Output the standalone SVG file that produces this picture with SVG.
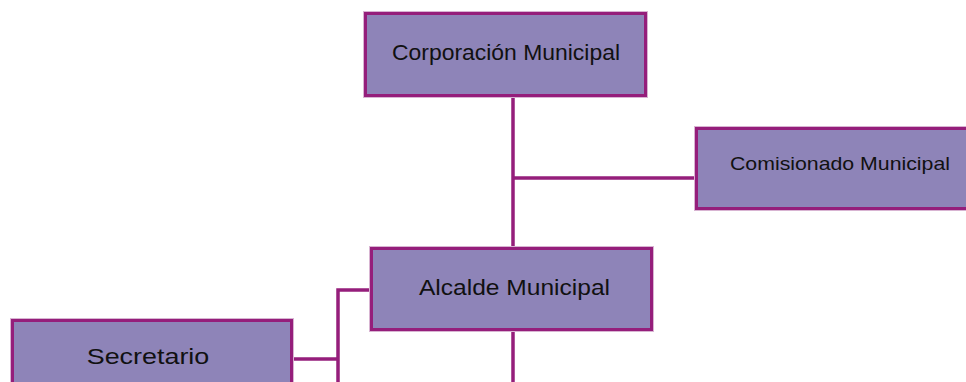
<svg xmlns="http://www.w3.org/2000/svg" width="966" height="382" viewBox="0 0 966 382">
<style>
.box{fill:#8E84B8;stroke:#951E7B;stroke-width:3}
.halo{fill:none;stroke:#D8B4D2;stroke-width:5}
.lbl{font-family:"Liberation Sans",Arial,sans-serif;fill:#111111;text-anchor:middle}
.conn{fill:none;stroke:#951E7B;stroke-width:3.5}
</style>
<rect width="966" height="382" fill="#FFFFFF"/>
<g id="connectors">
<line class="conn" x1="513" y1="96" x2="513" y2="249"/>
<line class="conn" x1="513" y1="178" x2="697" y2="178"/>
<line class="conn" x1="513" y1="330" x2="513" y2="382"/>
<polyline class="conn" points="372,290 338,290 338,382"/>
<line class="conn" x1="291" y1="359" x2="338" y2="359"/>
</g>
<g id="corporacion">
<rect class="halo" x="365.5" y="13.5" width="280" height="82"/>
<rect class="box" x="365.5" y="13.5" width="280" height="82"/>
<text class="lbl" x="506" y="60" font-size="22.5" textLength="228" lengthAdjust="spacingAndGlyphs">Corporación Municipal</text>
</g>
<g id="comisionado">
<rect class="halo" x="696.5" y="128.5" width="300" height="80"/>
<rect class="box" x="696.5" y="128.5" width="300" height="80"/>
<text class="lbl" x="840" y="169.5" font-size="18.5" textLength="220" lengthAdjust="spacingAndGlyphs">Comisionado Municipal</text>
</g>
<g id="alcalde">
<rect class="halo" x="371.5" y="248.5" width="280" height="81"/>
<rect class="box" x="371.5" y="248.5" width="280" height="81"/>
<text class="lbl" x="514.5" y="295" font-size="21.5" textLength="191" lengthAdjust="spacingAndGlyphs">Alcalde Municipal</text>
</g>
<g id="secretario">
<rect class="halo" x="12.5" y="320.5" width="279" height="100"/>
<rect class="box" x="12.5" y="320.5" width="279" height="100"/>
<text class="lbl" x="148" y="363.5" font-size="22.3" textLength="122.6" lengthAdjust="spacingAndGlyphs">Secretario</text>
</g>
</svg>
